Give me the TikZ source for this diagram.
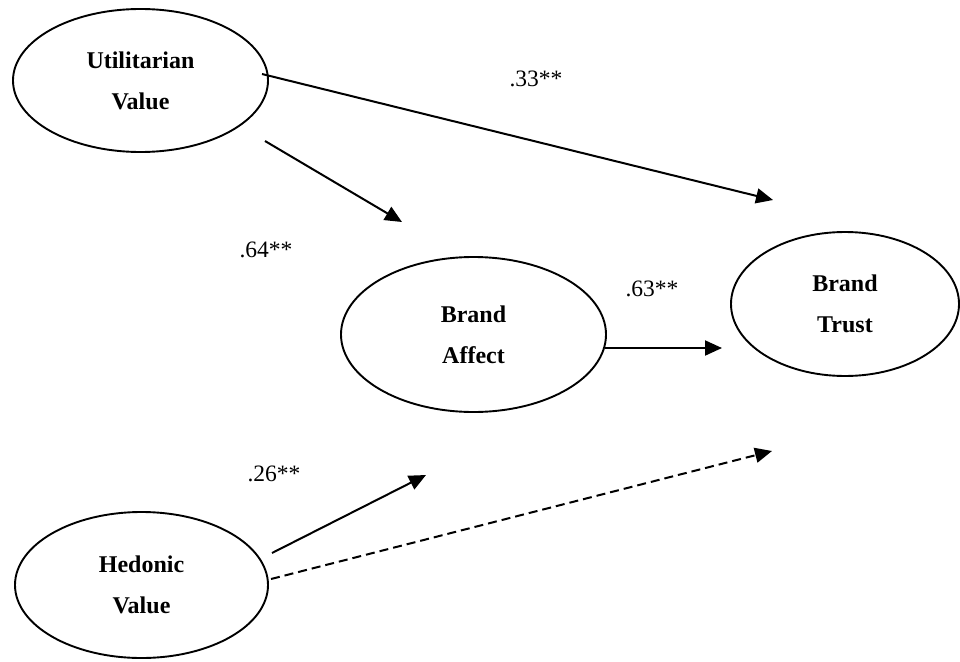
\documentclass[tikz,border=0pt]{standalone}
\usepackage{fontspec}
\setmainfont{Liberation Serif}
\usetikzlibrary{shapes.geometric,arrows.meta}
\begin{document}
\begin{tikzpicture}[x=1pt,y=-1pt,
  latent/.style={ellipse,draw,line width=1.9pt,inner sep=0pt,align=center,
    font=\fontsize{24}{41}\selectfont\bfseries},
  pathline/.style={line width=2pt,-{Triangle[length=17pt,width=15pt]}},
  coef/.style={font=\fontsize{23.5}{28}\selectfont,inner sep=0pt}]
\useasboundingbox (0,0) rectangle (960,661);
% constructs
\node[latent,minimum width=255pt,minimum height=143pt] (U) at (140.5,80.5) {Utilitarian\\Value};
\node[latent,minimum width=265pt,minimum height=155pt] (A) at (473.5,334.5) {Brand\\Affect};
\node[latent,minimum width=228pt,minimum height=144pt] (T) at (845,304) {Brand\\Trust};
\node[latent,minimum width=253pt,minimum height=146pt] (H) at (141.5,585) {Hedonic\\Value};
% connector end points
\coordinate (u1) at (262,74);
\coordinate (t1) at (773,200);
\coordinate (u2) at (265,141);
\coordinate (a1) at (402,222);
\coordinate (a2) at (605,348);
\coordinate (t2) at (722,348);
\coordinate (h1) at (272,553);
\coordinate (a3) at (426,475);
\coordinate (h2) at (271,579);
\coordinate (t3) at (772,451);
% paths
\draw[pathline] (u1) -- (t1);
\draw[pathline] (u2) -- (a1);
\draw[pathline] (a2) -- (t2);
\draw[pathline] (h1) -- (a3);
\draw[pathline,dash pattern=on 9pt off 5pt] (h2) -- (t3);
% coefficients
\node[coef] (c33) at (536,79) {.33**};
\node[coef] (c64) at (266,250) {.64**};
\node[coef] (c63) at (652,289) {.63**};
\node[coef] (c26) at (274,474) {.26**};
\end{tikzpicture}
\end{document}
